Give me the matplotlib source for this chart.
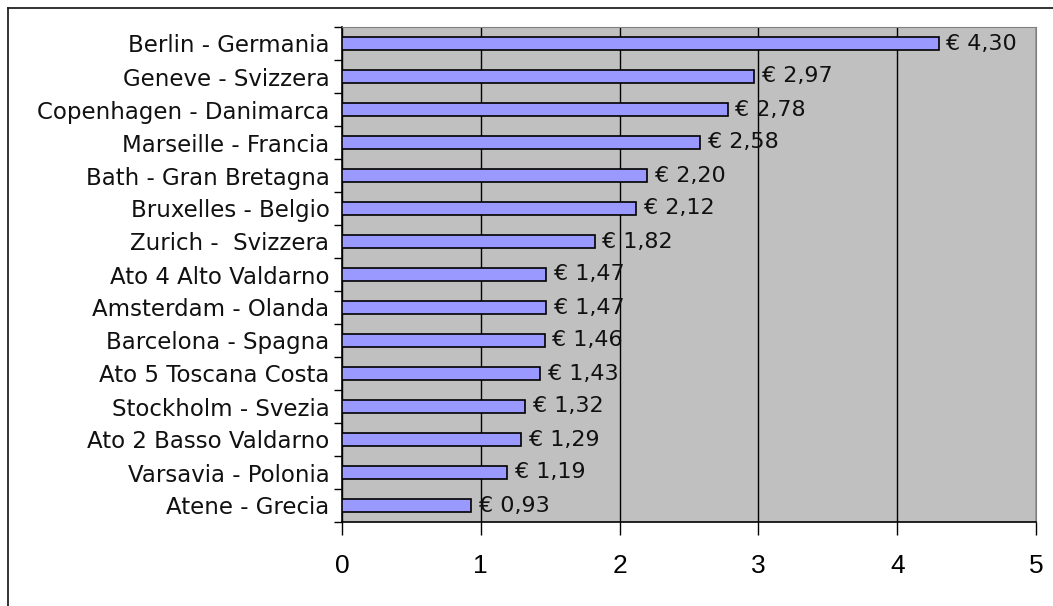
import numpy as np
import matplotlib.pyplot as plt
from matplotlib.lines import Line2D

cities = ["Berlin - Germania", "Geneve - Svizzera", "Copenhagen - Danimarca",
          "Marseille - Francia", "Bath - Gran Bretagna", "Bruxelles - Belgio",
          "Zurich -  Svizzera", "Ato 4 Alto Valdarno", "Amsterdam - Olanda",
          "Barcelona - Spagna", "Ato 5 Toscana Costa", "Stockholm - Svezia",
          "Ato 2 Basso Valdarno", "Varsavia - Polonia", "Atene - Grecia"]
prices = [4.30, 2.97, 2.78, 2.58, 2.20, 2.12, 1.82, 1.47, 1.47, 1.46, 1.43, 1.32, 1.29, 1.19, 0.93]
xticks = [0, 1, 2, 3, 4, 5]

fig = plt.figure(figsize=(10.53, 6.06), dpi=100)
# outer frame: only left and top edges are inside the image
fx, fy = 7.5/1053, 1 - 7.5/606
fig.lines.append(Line2D([fx, fx], [0, fy], transform=fig.transFigure, color='#222222', lw=1.3))
fig.lines.append(Line2D([fx, 1], [fy, fy], transform=fig.transFigure, color='#222222', lw=1.3))

ax = fig.add_axes([342/1053, 1 - 522/606, (1036-342)/1053, (522-27)/606])
ax.set_facecolor('#C0C0C0')

y = np.arange(len(cities))[::-1]
ax.barh(y, prices, height=0.4, color='#9999FF', edgecolor='black', linewidth=1.2, zorder=3)
for yi, p in zip(y, prices):
    ax.text(p + 0.055, yi, "€ " + f"{p:.2f}".replace(".", ","), va='center', ha='left',
            fontsize=16, family='DejaVu Sans', color='#111111', zorder=4)

ax.set_xlim(0, 5)
ax.set_ylim(-0.5, len(cities) - 0.5)
ax.set_xticks(xticks)
ax.set_xticklabels([str(t) for t in xticks], fontsize=19, family='Liberation Sans')
ax.set_yticks(y)
ax.set_yticklabels(cities, fontsize=16.5, family='DejaVu Sans', color='#111111')
ax.tick_params(axis='y', length=0, pad=9)
ax.set_yticks(np.arange(len(cities) + 1) - 0.5, minor=True)
ax.tick_params(axis='y', which='minor', length=6, direction='out', width=1)
ax.tick_params(axis='x', length=9, direction='out', width=1, pad=14)
ax.grid(axis='x', color='black', linewidth=1, zorder=1)
for s in ['top', 'right']:
    ax.spines[s].set_color('#808080')
for s in ['left', 'bottom']:
    ax.spines[s].set_color('black')
    ax.spines[s].set_linewidth(1.2)
ax.set_axisbelow(True)

fig.savefig('out.png', dpi=100)
